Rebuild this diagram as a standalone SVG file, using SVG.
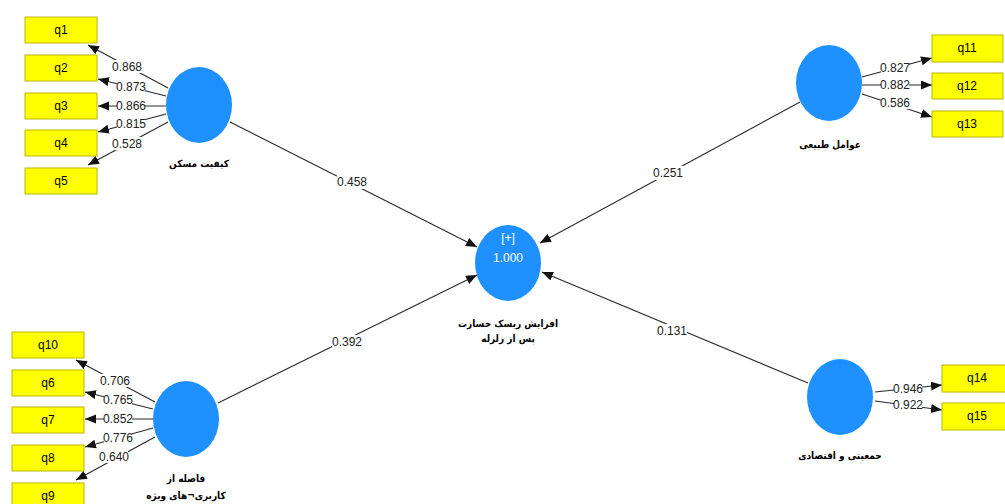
<svg xmlns="http://www.w3.org/2000/svg" width="1005" height="504" viewBox="0 0 1005 504">
  <style>
    .lv { fill: #1e90ff; }
    .mv rect { fill: #ffff00; stroke: #b8b800; stroke-width: 1; }
    .mv text { font-family: "Liberation Sans", sans-serif; font-size: 12px; fill: #000; text-anchor: middle; }
    .cap { font-family: "DejaVu Sans Condensed", "DejaVu Sans", sans-serif; font-stretch: condensed; font-size: 10px; font-weight: bold; fill: #000; text-anchor: middle; }
    .edge line { stroke: #2a2a2a; stroke-width: 1.1; fill: none; }
    .w rect { fill: #fff; }
    .w text { font-family: "Liberation Sans Narrow", "Liberation Sans", sans-serif; font-size: 12px; fill: #222; text-anchor: middle; }
    .inner { font-family: "Liberation Sans", sans-serif; font-size: 12px; fill: #fff; text-anchor: middle; }
  </style>
  <defs>
    <marker id="ah" markerUnits="userSpaceOnUse" markerWidth="12" markerHeight="10" refX="11" refY="4.5" orient="auto">
      <path d="M0,0 L11,4.5 L0,9 z" fill="#111"/>
    </marker>
  </defs>
  <rect width="1005" height="504" fill="#fff"/>

  <!-- connectors -->
  <g id="connectors" class="edge">
    <!-- inner model -->
    <line x1="230" y1="122" x2="477" y2="247" marker-end="url(#ah)"/>
    <line x1="800" y1="102" x2="540" y2="243" marker-end="url(#ah)"/>
    <line x1="218" y1="403" x2="477" y2="275" marker-end="url(#ah)"/>
    <line x1="808" y1="383" x2="542" y2="272" marker-end="url(#ah)"/>
    <!-- outer loadings, top left -->
    <line x1="168" y1="88" x2="88" y2="45" marker-end="url(#ah)"/>
    <line x1="166" y1="96" x2="98" y2="79" marker-end="url(#ah)"/>
    <line x1="166" y1="106" x2="98" y2="106" marker-end="url(#ah)"/>
    <line x1="166" y1="114" x2="98" y2="132" marker-end="url(#ah)"/>
    <line x1="168" y1="122" x2="88" y2="165" marker-end="url(#ah)"/>
    <!-- outer loadings, bottom left -->
    <line x1="155" y1="402" x2="76" y2="360" marker-end="url(#ah)"/>
    <line x1="153" y1="409" x2="85" y2="392" marker-end="url(#ah)"/>
    <line x1="153" y1="419" x2="85" y2="419" marker-end="url(#ah)"/>
    <line x1="153" y1="428" x2="85" y2="447" marker-end="url(#ah)"/>
    <line x1="155" y1="437" x2="76" y2="480" marker-end="url(#ah)"/>
    <!-- outer loadings, top right -->
    <line x1="862" y1="77" x2="932" y2="58" marker-end="url(#ah)"/>
    <line x1="862" y1="85" x2="932" y2="85" marker-end="url(#ah)"/>
    <line x1="862" y1="94" x2="932" y2="117" marker-end="url(#ah)"/>
    <!-- outer loadings, bottom right -->
    <line x1="875" y1="392" x2="942" y2="385" marker-end="url(#ah)"/>
    <line x1="875" y1="401" x2="942" y2="410" marker-end="url(#ah)"/>

    <!-- coefficient labels -->
    <g class="w">
      <rect x="337" y="175" width="30" height="14"/><text x="352" y="186">0.458</text>
      <rect x="653" y="166" width="30" height="14"/><text x="668" y="177">0.251</text>
      <rect x="332" y="335" width="30" height="14"/><text x="347" y="346">0.392</text>
      <rect x="657" y="324" width="30" height="14"/><text x="672" y="335">0.131</text>

      <rect x="113" y="60" width="28" height="13"/><text x="127" y="71">0.868</text>
      <rect x="117" y="80" width="28" height="13"/><text x="131" y="91">0.873</text>
      <rect x="117" y="99" width="28" height="13"/><text x="131" y="110">0.866</text>
      <rect x="117" y="117" width="28" height="13"/><text x="131" y="128">0.815</text>
      <rect x="113" y="137" width="28" height="13"/><text x="127" y="148">0.528</text>

      <rect x="101" y="374" width="28" height="13"/><text x="115" y="385">0.706</text>
      <rect x="104" y="393" width="28" height="13"/><text x="118" y="404">0.765</text>
      <rect x="104" y="412" width="28" height="13"/><text x="118" y="423">0.852</text>
      <rect x="104" y="431" width="28" height="13"/><text x="118" y="442">0.776</text>
      <rect x="100" y="450" width="28" height="13"/><text x="114" y="461">0.640</text>

      <rect x="881" y="61" width="28" height="13"/><text x="895" y="72">0.827</text>
      <rect x="881" y="78" width="28" height="13"/><text x="895" y="89">0.882</text>
      <rect x="881" y="96" width="28" height="13"/><text x="895" y="107">0.586</text>

      <rect x="894" y="382" width="28" height="13"/><text x="908" y="393">0.946</text>
      <rect x="894" y="398" width="28" height="13"/><text x="908" y="409">0.922</text>
    </g>
  </g>

  <!-- latent constructs -->
  <g id="kayfiyat-maskan">
    <ellipse class="lv" cx="199" cy="105" rx="33" ry="38"/>
    <text class="cap" x="199" y="167">کیفیت مسکن</text>
  </g>
  <g id="fasele-karbari">
    <ellipse class="lv" cx="186" cy="419" rx="33" ry="38"/>
    <text class="cap" x="186" y="482">فاصله از</text>
    <text class="cap" x="186" y="499">کاربری¬های ویژه</text>
  </g>
  <g id="avamel-tabiei">
    <ellipse class="lv" cx="829" cy="83" rx="33" ry="38"/>
    <text class="cap" x="830" y="148">عوامل طبیعی</text>
  </g>
  <g id="jamiyati-eqtesadi">
    <ellipse class="lv" cx="840" cy="397" rx="33" ry="38"/>
    <text class="cap" x="840" y="459">جمعیتی و اقتصادی</text>
  </g>
  <g id="risk">
    <ellipse class="lv" cx="508" cy="263" rx="33" ry="38"/>
    <text class="inner" x="508" y="242">[+]</text>
    <text class="inner" x="508" y="262">1.000</text>
    <text class="cap" x="508" y="327">افزایش ریسک خسارت</text>
    <text class="cap" x="508" y="342">پس از زلزله</text>
  </g>

  <!-- indicators -->
  <g id="q1" class="mv"><rect x="25" y="17" width="72" height="26"/><text x="61" y="34">q1</text></g>
  <g id="q2" class="mv"><rect x="25" y="55" width="72" height="26"/><text x="61" y="72">q2</text></g>
  <g id="q3" class="mv"><rect x="25" y="93" width="72" height="26"/><text x="61" y="110">q3</text></g>
  <g id="q4" class="mv"><rect x="25" y="130" width="72" height="26"/><text x="61" y="147">q4</text></g>
  <g id="q5" class="mv"><rect x="25" y="168" width="72" height="26"/><text x="61" y="185">q5</text></g>

  <g id="q10" class="mv"><rect x="12" y="332" width="72" height="26"/><text x="48" y="349">q10</text></g>
  <g id="q6" class="mv"><rect x="12" y="370" width="72" height="26"/><text x="48" y="387">q6</text></g>
  <g id="q7" class="mv"><rect x="12" y="407" width="72" height="26"/><text x="48" y="424">q7</text></g>
  <g id="q8" class="mv"><rect x="12" y="445" width="72" height="26"/><text x="48" y="462">q8</text></g>
  <g id="q9" class="mv"><rect x="12" y="483" width="72" height="26"/><text x="48" y="500">q9</text></g>

  <g id="q11" class="mv"><rect x="932" y="35" width="71" height="27"/><text x="967" y="52">q11</text></g>
  <g id="q12" class="mv"><rect x="932" y="73" width="71" height="26"/><text x="967" y="90">q12</text></g>
  <g id="q13" class="mv"><rect x="932" y="111" width="71" height="26"/><text x="967" y="128">q13</text></g>

  <g id="q14" class="mv"><rect x="942" y="365" width="72" height="27"/><text x="977" y="382">q14</text></g>
  <g id="q15" class="mv"><rect x="942" y="403" width="72" height="27"/><text x="977" y="420">q15</text></g>
</svg>
